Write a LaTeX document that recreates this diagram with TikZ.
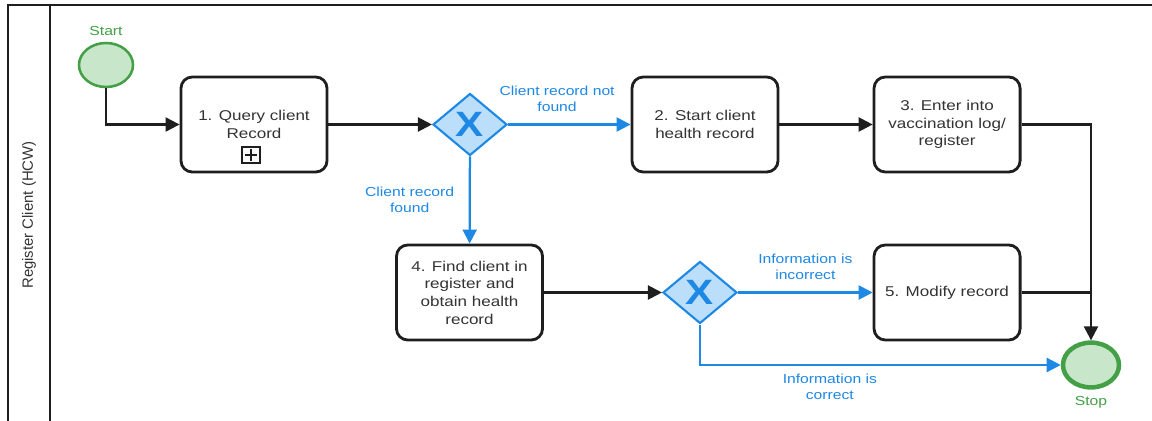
\documentclass[tikz,border=0pt]{standalone}
\usepackage{fontspec}
\setmainfont{Liberation Sans}[FakeStretch=1.2]
\newfontfamily\lanefont{Liberation Sans}
\usepackage{tikz}
\usetikzlibrary{arrows.meta,shapes.geometric,positioning}
\definecolor{bpgreen}{RGB}{67,160,71}
\definecolor{bplightgreen}{RGB}{200,230,201}
\definecolor{bpblue}{RGB}{30,136,229}
\definecolor{bplightblue}{RGB}{187,222,251}
\definecolor{bpink}{RGB}{30,30,30}
\definecolor{bptext}{RGB}{51,51,51}
\tikzstyle{flow} = [line width=1.6pt,-{Triangle[length=10pt,width=10pt]},color=bpink]
\tikzstyle{cond} = [flow,color=bpblue]
\tikzstyle{task} = [rectangle, rounded corners=8pt, minimum width=3.65cm, minimum height=2.375cm, align=center, draw=bpink, line width=2pt, text=bptext, font=\fontsize{10.1}{12.6}\selectfont]
\tikzstyle{gateway} = [diamond, minimum width=1.85cm, minimum height=1.55cm, inner sep=0pt, draw=bpblue, fill=bplightblue, line width=1.5pt, text=bpblue, font=\fontsize{25}{25}\selectfont\bfseries]
\tikzstyle{event} = [ellipse, minimum width=1.35cm, minimum height=1.1cm, draw=bpgreen, fill=bplightgreen, line width=1.8pt]
\tikzstyle{condlabel} = [align=center, text=bpblue, font=\fontsize{9.3}{11.4}\selectfont]
\tikzstyle{evlabel} = [text=bpgreen, font=\fontsize{9.3}{11.4}\selectfont]

\begin{document}
\begin{tikzpicture}[x=0.025cm, y=-0.025cm]
\useasboundingbox[fill=white] (0,0) rectangle (1152,421);
% Pool and lane
\draw[line width=1.4pt, bpink] (1152,5) -- (8,5) -- (8,421);
\draw[line width=1.4pt, bpink] (50,5) -- (50,421);
\node[rotate=90, text=bptext, font=\lanefont\fontsize{10.6}{12}\selectfont] (lane) at (29,215) {Register Client (HCW)};

% Events
\node[event] (start) at (106,65) {};
\node[evlabel, above=1pt of start] (startlbl) {Start};
\node[event, line width=3.2pt, minimum width=1.4cm, minimum height=1.12cm] (stop) at (1091,365) {};
\node[evlabel, below=1pt of stop] (stoplbl) {Stop};

% Tasks and gateways
\node[task] (query) at (254,124.5) {1. Query client\\Record};
\node[draw=bpink, line width=1.1pt, minimum width=0.45cm, minimum height=0.4cm, inner sep=0pt] (sub) at (251,155) {};
\draw[line width=1.6pt, bpink] ([yshift=-2pt]sub.north) -- ([yshift=2pt]sub.south);
\draw[line width=1.6pt, bpink] ([xshift=2.5pt]sub.west) -- ([xshift=-2.5pt]sub.east);
\node[gateway] (gwfound) at (470,124.5) {X};
\node[task] (start2) at (705,124.5) {2. Start client\\health record};
\node[task, right=2.33cm of start2] (enter) {3. Enter into\\vaccination log/\\register};
\node[task] (find) at (469.5,292.5) {4. Find client in\\register and\\obtain health\\record};
\node[gateway] (gwinfo) at (700,292.5) {X};
\node[task] (modify) at (enter |- find) {5. Modify record};

% Flows
\draw[flow] (start) |- (query);
\draw[flow] (query) -- (gwfound);
\draw[cond] (gwfound) -- node[condlabel, pos=0.4, above=5pt] {Client record not\\found} (start2);
\draw[flow] (start2) -- (enter);
\draw[flow] (enter) -| (stop);
\draw[cond] (gwfound) -- node[condlabel, left=7pt] {Client record\\found} (find);
\draw[flow] (find) -- (gwinfo);
\draw[cond] (gwinfo) -- node[condlabel, above=5pt] {Information is\\incorrect} (modify);
\draw[line width=1.6pt, bpink] (modify) -- (modify -| stop);
\draw[cond] (gwinfo) |- node[condlabel, pos=0.68, below=2pt] {Information is\\correct} (stop);
\end{tikzpicture}
\end{document}
